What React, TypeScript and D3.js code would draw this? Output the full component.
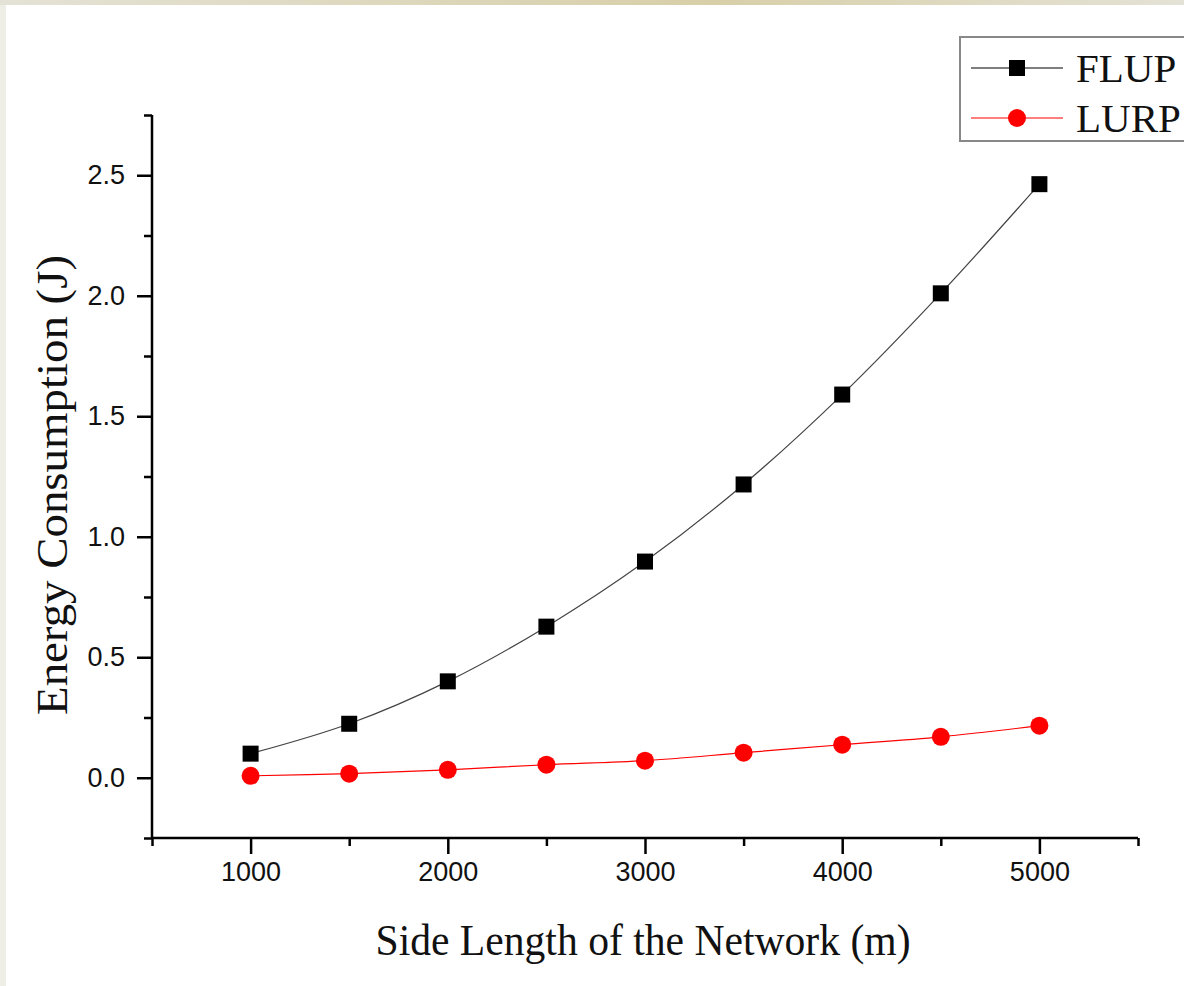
import * as d3 from 'd3'
import { useRef, useEffect } from 'react'

// side length of the network (m)
const sideLengths = [1000, 1500, 2000, 2500, 3000, 3500, 4000, 4500, 5000]
// energy consumption (J)
const flupValues = [0.10, 0.224, 0.40, 0.627, 0.897, 1.217, 1.59, 2.01, 2.463]
const lurpValues = [0.008, 0.017, 0.033, 0.054, 0.071, 0.104, 0.137, 0.17, 0.216]

const xTicks = [1000, 2000, 3000, 4000, 5000]
const yTicks = [0, 0.5, 1.0, 1.5, 2.0, 2.5]

const seriesNames = ['FLUP', 'LURP']

export default function App() {
    const svgRef = useRef<SVGSVGElement>(null)

    useEffect(() => {
        const svg = d3.select(svgRef.current)
        svg.selectAll('*').remove()

        const W = 1184, H = 986
        const left = 152, right = 1138, top = 115, bottom = 838

        // background pieces from the slide
        svg.append('rect').attr('width', W).attr('height', H).attr('fill', '#ffffff')
        svg.append('rect').attr('width', 6).attr('height', H).attr('fill', '#efeee6')
        const grad = svg.append('defs').append('linearGradient').attr('id', 'topband')
        grad.append('stop').attr('offset', '0%').attr('stop-color', '#e4e2d6')
        grad.append('stop').attr('offset', '60%').attr('stop-color', '#d8cfa8')
        grad.append('stop').attr('offset', '100%').attr('stop-color', '#e4e2d6')
        svg.append('rect').attr('width', W).attr('height', 5).attr('fill', 'url(#topband)')

        const x = d3.scaleLinear().domain([500, 5500]).range([left, right])
        const y = d3.scaleLinear().domain([-0.25, 2.75]).range([bottom, top])

        // x axis
        const xAxis = svg.append('g').attr('transform', `translate(0,${bottom})`)
        xAxis.call(d3.axisBottom(x).tickValues(d3.range(500, 5501, 500)).tickSize(8).tickFormat(() => ''))
        xAxis.call(g => g.selectAll('.tick').filter((d: any) => xTicks.includes(d)).select('line').attr('y2', 16))
        xAxis.call(g => g.selectAll('.tick').filter((d: any) => xTicks.includes(d)).select('text')
            .text((d: any) => d).attr('y', 24))
        xAxis.select('.domain').attr('d', `M${left},0H${right}`)

        // y axis
        const yAxis = svg.append('g').attr('transform', `translate(${left},0)`)
        yAxis.call(d3.axisLeft(y).tickValues(d3.range(-0.25, 2.76, 0.25)).tickSize(8).tickFormat(() => ''))
        const isMajor = (d: any) => yTicks.some(t => Math.abs(t - d) < 1e-6)
        yAxis.call(g => g.selectAll('.tick').filter(isMajor).select('line').attr('x2', -15))
        yAxis.call(g => g.selectAll('.tick').filter(isMajor).select('text')
            .text((d: any) => d3.format('.1f')(d)).attr('x', -27))
        yAxis.select('.domain').attr('d', `M0,${bottom}V${top}`)

        svg.selectAll('.domain, .tick line').attr('stroke', '#000').attr('stroke-width', 2.5)
        svg.selectAll('.tick text').attr('font-family', '"Liberation Sans", Arial, sans-serif')
            .attr('font-size', 27).attr('fill', '#111')

        // lines
        const line = d3.line<number>()
            .x((_, i) => x(sideLengths[i]))
            .y(d => y(d))
            .curve(d3.curveCatmullRom)

        svg.append('path').attr('d', line(flupValues)).attr('fill', 'none')
            .attr('stroke', '#444').attr('stroke-width', 1.2)
        svg.append('path').attr('d', line(lurpValues)).attr('fill', 'none')
            .attr('stroke', '#ff0000').attr('stroke-width', 1.2)

        svg.append('g').selectAll('rect').data(flupValues).join('rect')
            .attr('x', (_, i) => x(sideLengths[i]) - 8).attr('y', d => y(d) - 8)
            .attr('width', 16).attr('height', 16).attr('fill', '#000')
        svg.append('g').selectAll('circle').data(lurpValues).join('circle')
            .attr('cx', (_, i) => x(sideLengths[i])).attr('cy', d => y(d))
            .attr('r', 9).attr('fill', '#ff0000')

        // axis titles
        svg.append('text').text('Side Length of the Network (m)')
            .attr('x', 643).attr('y', 955).attr('text-anchor', 'middle')
            .attr('font-family', '"Liberation Serif", "Times New Roman", serif')
            .attr('font-size', 45).attr('fill', '#111')
            .attr('textLength', 535).attr('lengthAdjust', 'spacingAndGlyphs')
        svg.append('text').text('Energy Consumption (J)')
            .attr('transform', 'translate(67,485) rotate(-90)').attr('text-anchor', 'middle')
            .attr('font-family', '"Liberation Serif", "Times New Roman", serif')
            .attr('font-size', 44).attr('fill', '#111')
            .attr('textLength', 460).attr('lengthAdjust', 'spacingAndGlyphs')

        // legend
        const legend = svg.append('g')
        legend.append('rect').attr('x', 960).attr('y', 37).attr('width', 240).attr('height', 104)
            .attr('fill', '#fff').attr('stroke', '#888').attr('stroke-width', 2)
        const colors = ['#000', '#ff0000']
        seriesNames.forEach((name, i) => {
            const ly = 68 + i * 50
            legend.append('line').attr('x1', 971).attr('x2', 1063).attr('y1', ly).attr('y2', ly)
                .attr('stroke', colors[i]).attr('stroke-width', 1.2)
            if (i === 0) {
                legend.append('rect').attr('x', 1009).attr('y', ly - 8).attr('width', 16).attr('height', 16)
                    .attr('fill', '#000')
            } else {
                legend.append('circle').attr('cx', 1017).attr('cy', ly).attr('r', 9).attr('fill', '#ff0000')
            }
            legend.append('text').text(name).attr('x', 1076).attr('y', ly + 14)
                .attr('font-family', '"Liberation Serif", "Times New Roman", serif')
                .attr('font-size', 41).attr('fill', '#111')
        })
    }, [])

    return (
        <svg ref={svgRef} width={1184} height={986}
            style={{ position: 'absolute', left: 0, top: 0, display: 'block' }}></svg>
    )
}
